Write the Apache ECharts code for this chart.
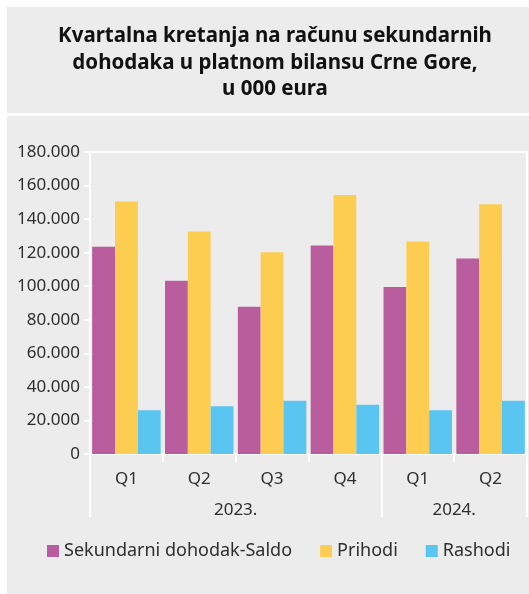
<!DOCTYPE html>
<html>
<head>
<meta charset="utf-8">
<script src="https://cdn.jsdelivr.net/npm/echarts@6/dist/echarts.min.js"></script>
<style>
    html, body { margin: 0; padding: 0; background: #fff; }
    #chart { width: 529px; height: 594px; }
</style>
</head>
<body>
<div id="chart"></div>
<script>
var quarters = ['Q1', 'Q2', 'Q3', 'Q4', 'Q1', 'Q2'];
var years = {2: '2023.', 5: '2024.'};
var saldo = [123500, 103300, 87800, 124300, 99600, 116500];
var prihodi = [150500, 132600, 120300, 154300, 126600, 148900];
var rashodi = [26100, 28500, 31700, 29300, 26100, 31700];

var fontName = 'Noto Sans';
var textColor = '#2e2e2e';

function fmt(v) {
    return String(v).replace(/\B(?=(\d{3})+(?!\d))/g, '.');
}

var chart = echarts.init(document.getElementById('chart'));
chart.setOption({
    backgroundColor: '#fff',
    animation: false,
    textStyle: { fontFamily: fontName },
    graphic: [
        { type: 'rect', z: -10, shape: { x: 7, y: 7, width: 522, height: 106 }, style: { fill: '#ececec' } },
        { type: 'rect', z: -10, shape: { x: 7, y: 116, width: 522, height: 478 }, style: { fill: '#ececec' } }
    ],
    title: {
        text: 'Kvartalna kretanja na računu sekundarnih\ndohodaka u platnom bilansu Crne Gore,\nu 000 eura',
        left: 270,
        top: 18,
        textAlign: 'center',
        textStyle: {
            fontFamily: fontName,
            fontSize: 20.5,
            fontWeight: 'bold',
            color: '#111',
            lineHeight: 26.5
        }
    },
    legend: {
        bottom: 29,
        left: 42,
        itemWidth: 12,
        itemHeight: 12,
        itemGap: 28,
        icon: 'rect',
        textStyle: { fontSize: 18, color: textColor },
        data: ['Sekundarni dohodak-Saldo', 'Prihodi', 'Rashodi']
    },
    grid: {
        left: 90,
        right: 2,
        top: 152,
        bottom: 140,
        show: true,
        borderColor: '#fff',
        borderWidth: 2
    },
    xAxis: [
        {
            type: 'category',
            data: quarters,
            axisLine: { lineStyle: { color: '#fff', width: 2 } },
            axisTick: { show: true, length: 8, lineStyle: { color: '#fff', width: 2 } },
            axisLabel: { color: textColor, fontSize: 17, margin: 17 }
        },
        {
            type: 'value',
            position: 'bottom',
            min: 0,
            max: 6,
            interval: 1,
            axisLine: { show: false },
            splitLine: { show: false },
            axisTick: { show: true, length: 63, customValues: [0, 4, 6], lineStyle: { color: '#fff', width: 2 } },
            axisLabel: {
                customValues: [2, 5],
                color: textColor,
                fontSize: 17,
                margin: 48,
                formatter: function (v) { return years[v] || ''; }
            }
        }
    ],
    yAxis: {
        type: 'value',
        min: 0,
        max: 180000,
        interval: 20000,
        axisLine: { show: true, lineStyle: { color: '#fff', width: 2 } },
        axisTick: { show: true, length: 6, lineStyle: { color: '#fff', width: 2 } },
        splitLine: { show: false },
        axisLabel: { color: textColor, fontSize: 17, margin: 10, formatter: fmt }
    },
    series: [
        { name: 'Sekundarni dohodak-Saldo', type: 'bar', data: saldo, barGap: '0%', barCategoryGap: '6%', itemStyle: { color: '#b95d9e' } },
        { name: 'Prihodi', type: 'bar', data: prihodi, barGap: '0%', barCategoryGap: '6%', itemStyle: { color: '#fdcd52' } },
        { name: 'Rashodi', type: 'bar', data: rashodi, barGap: '0%', barCategoryGap: '6%', itemStyle: { color: '#5bc5f2' } }
    ]
});

window.addEventListener('resize', function () {
    chart.resize();
});
</script>
</body>
</html>
